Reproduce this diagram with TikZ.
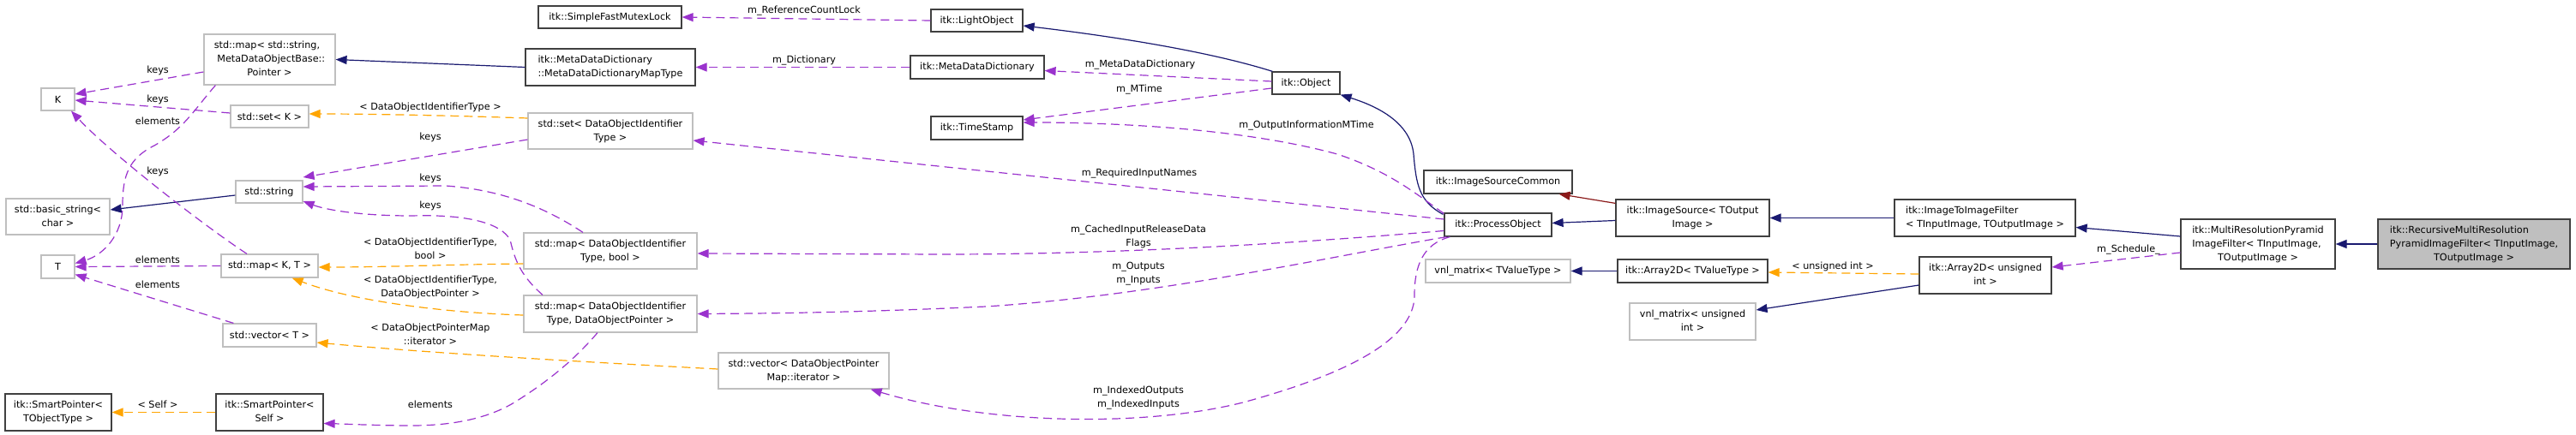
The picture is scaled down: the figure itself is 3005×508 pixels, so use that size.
\documentclass[tikz,border=0pt]{standalone}
\usepackage{fontspec}
\setmainfont{DejaVu Sans}
\usetikzlibrary{arrows.meta,calc}
\definecolor{navy}{HTML}{191970}
\definecolor{usepurple}{HTML}{9A32CD}
\definecolor{tmplorange}{HTML}{FFA500}
\definecolor{inhred}{HTML}{8B1A1A}
\definecolor{boxdark}{HTML}{404040}
\definecolor{boxgray}{HTML}{BFBFBF}
\newcommand\LC[2]{\begin{tabular}{@{}c@{}}\begin{tabular}[b]{@{}l@{}}#1\end{tabular}\\#2\end{tabular}}
\newcommand\CC[1]{\begin{tabular}{@{}c@{}}#1\end{tabular}}
\newcommand\LL[1]{\begin{tabular}{@{}l@{}}#1\end{tabular}}
\newcommand\bx[7]{\node[#2, minimum width={#5-#3}, minimum height={#6-#4}] (#1) at ({(#3+#5)/2},{(#4+#6)/2}) {#7};}
\begin{document}
\begin{tikzpicture}[x=1pt,y=-1pt,
  every node/.style={font=\fontsize{11.2}{16}\selectfont, inner sep=0pt},
  gbox/.style={draw=boxgray, line width=1.2pt, fill=white, rectangle},
  dbox/.style={draw=boxdark, line width=1.2pt, fill=white, rectangle},
  tip/.style={-{Triangle[length=13pt,width=10pt]}},
  inh/.style={navy, line width=1.2pt, tip},
  inhr/.style={inhred, line width=1.2pt, tip},
  tmpl/.style={tmplorange, line width=1.2pt, dash pattern=on 10pt off 6pt, tip},
  use/.style={usepurple, line width=1.2pt, dash pattern=on 10pt off 6pt, tip},
  lbl/.style={align=center}]
\fill[white] (0,0) rectangle (3005,508);
\useasboundingbox (0,0) rectangle (3005,508);
% nodes
\bx{mapstr}{gbox}{238}{40}{391}{99}{\LC{std::map< std::string,\\\ MetaDataObjectBase::}{Pointer >}}
\bx{K}{gbox}{48}{103}{87}{129}{K}
\bx{setK}{gbox}{269}{123}{360}{149}{std::set< K >}
\bx{string}{gbox}{275}{211}{353}{237}{std::string}
\bx{basicstr}{gbox}{7}{232}{128}{274}{\CC{std::basic\_string<\\char >}}
\bx{T}{gbox}{48}{298}{87}{325}{T}
\bx{mapKT}{gbox}{258}{297}{371}{324}{std::map< K, T >}
\bx{vecT}{gbox}{260}{378}{369}{405}{std::vector< T >}
\bx{spTO}{dbox}{6}{460}{130}{503}{\CC{itk::SmartPointer<\\TObjectType >}}
\bx{spSelf}{dbox}{252}{460}{377}{503}{\CC{itk::SmartPointer<\\Self >}}
\bx{mutex}{dbox}{628}{7}{795}{33}{itk::SimpleFastMutexLock}
\bx{mdmap}{dbox}{613}{57}{811}{100}{\LL{itk::MetaDataDictionary\\::MetaDataDictionaryMapType}}
\bx{setDO}{gbox}{616}{132}{808}{174}{\CC{std::set< DataObjectIdentifier\\Type >}}
\bx{mapBool}{gbox}{611}{272}{813}{314}{\CC{std::map< DataObjectIdentifier\\Type, bool >}}
\bx{mapDOP}{gbox}{611}{345}{813}{388}{\CC{std::map< DataObjectIdentifier\\Type, DataObjectPointer >}}
\bx{vecDOP}{gbox}{838}{412}{1037}{454}{\CC{std::vector< DataObjectPointer\\Map::iterator >}}
\bx{light}{dbox}{1086}{11}{1193}{37}{itk::LightObject}
\bx{mdd}{dbox}{1062}{65}{1218}{92}{itk::MetaDataDictionary}
\bx{ts}{dbox}{1086}{136}{1193}{163}{itk::TimeStamp}
\bx{obj}{dbox}{1484}{84}{1563}{110}{itk::Object}
\bx{isc}{dbox}{1661}{199}{1834}{226}{itk::ImageSourceCommon}
\bx{po}{dbox}{1685}{249}{1810}{276}{itk::ProcessObject}
\bx{is}{dbox}{1885}{233}{2064}{276}{\CC{itk::ImageSource< TOutput\\Image >}}
\bx{vnlT}{gbox}{1663}{303}{1832}{330}{vnl\_matrix< TValueType >}
\bx{arrT}{dbox}{1887}{303}{2062}{330}{itk::Array2D< TValueType >}
\bx{vnlU}{gbox}{1901}{354}{2048}{397}{\CC{vnl\_matrix< unsigned\\int >}}
\bx{i2i}{dbox}{2210}{233}{2421}{276}{\LL{itk::ImageToImageFilter\\< TInputImage, TOutputImage >}}
\bx{arrU}{dbox}{2239}{300}{2393}{343}{\CC{itk::Array2D< unsigned\\int >}}
\bx{mrp}{dbox}{2544}{256}{2724}{314}{\LC{itk::MultiResolutionPyramid\\ImageFilter< TInputImage,}{TOutputImage >}}
\bx{rec}{dbox, fill=boxgray}{2774}{256}{2998}{314}{\LC{itk::RecursiveMultiResolution\\PyramidImageFilter< TInputImage,}{TOutputImage >}}
% inheritance
\draw[inh] (mdmap.west) -- (mapstr.east);
\draw[inh] ($(string.west)+(0,4)$) -- ($(basicstr.east)+(0,-8)$);
\draw[inh] ($(obj.north west)+(1,0)$) .. controls (1420,63) and (1320,45) .. ($(light.east)+(0,6)$);
\draw[inh] ($(po.north west)+(-1,2)$) .. controls (1655,235) and (1652,215) .. (1649,180) .. controls (1645,140) and (1600,122) .. (obj.south east);
\draw[inh] ($(is.west)+(0,3)$) -- ($(po.east)+(0,-2)$);
\draw[inh] (i2i.west) -- (is.east);
\draw[inh] ($(mrp.west)+(0,-9)$) -- ($(i2i.east)+(0,11)$);
\draw[inh] (rec.west) -- (mrp.east);
\draw[inh] (arrT.west) -- (vnlT.east);
\draw[inh] ($(arrU.west)+(0,11.5)$) -- ($(vnlU.east)+(0,-13.5)$);
\draw[inhr] ($(is.north west)+(0,5)$) -- ($(isc.south east)+(-16,0)$);
% template instances
\draw[tmpl] ($(setDO.west)+(0,-15)$) .. controls (560,136) and (450,133) .. ($(setK.east)+(0,-3)$);
\draw[tmpl] ($(mapBool.west)+(0,15)$) .. controls (520,309) and (450,312) .. ($(mapKT.east)+(0,1.5)$);
\draw[tmpl] ($(mapDOP.west)+(0,1.5)$) .. controls (540,366) and (420,355) .. ($(mapKT.south east)+(-31,0)$);
\draw[tmpl] ($(vecDOP.west)+(0,-2)$) .. controls (650,421) and (500,412) .. ($(vecT.east)+(0,8.5)$);
\draw[tmpl] (spSelf.west) -- (spTO.east);
\draw[tmpl] ($(arrU.west)+(0,-1.5)$) -- ($(arrT.east)+(0,1.5)$);
% usage
\draw[use] (light.west) -- (mutex.east);
\draw[use] (mdd.west) -- (mdmap.east);
\draw[use] ($(obj.west)+(0,-2)$) -- ($(mdd.east)+(0,4)$);
\draw[use] ($(obj.west)+(0,6)$) -- ($(ts.east)+(0,-9.5)$);
\draw[use] ($(po.north west)+(0,1)$) .. controls (1650,225) and (1620,200) .. (1560,180) .. controls (1450,150) and (1300,143) .. ($(ts.east)+(0,-6.5)$);
\draw[use] ($(po.west)+(0,-6.5)$) -- ($(setDO.east)+(0,11)$);
\draw[use] ($(po.west)+(0,7)$) .. controls (1500,285) and (1300,297) .. (1100,297) -- ($(mapBool.east)+(0,3)$);
\draw[use] ($(po.south west)+(3,0)$) .. controls (1550,300) and (1350,345) .. (1150,358) .. controls (1000,365) and (900,366) .. (mapDOP.east);
\draw[use] ($(po.south west)+(7,0)$) .. controls (1660,285) and (1650,310) .. (1650,345) .. controls (1650,400) and (1560,440) .. (1450,470) .. controls (1330,500) and (1150,495) .. ($(vecDOP.south east)+(-22,0)$);
\draw[use] ($(mrp.west)+(0,10)$) -- ($(arrU.east)+(0,-9.5)$);
\draw[use] ($(mapstr.west)+(0,14.5)$) -- ($(K.east)+(0,-6)$);
\draw[use] ($(setK.west)+(0,-4)$) -- ($(K.east)+(0,1)$);
\draw[use] ($(mapKT.north)+(-26.5,0)$) .. controls (240,265) and (130,180) .. ($(K.south)+(15.5,0)$);
\draw[use] ($(mapstr.south west)+(14,0)$) .. controls (225,130) and (215,150) .. (180,170) .. controls (150,185) and (143,205) .. (143,240) .. controls (143,275) and (120,298) .. ($(T.east)+(0,-4)$);
\draw[use] (mapKT.west) -- (T.east);
\draw[use] ($(vecT.north west)+(13,0)$) -- ($(T.east)+(0,9)$);
\draw[use] ($(setDO.west)+(0,10)$) -- ($(string.east)+(0,-17)$);
\draw[use] ($(mapBool.north)+(-32,0)$) .. controls (640,245) and (590,222) .. (520,217) -- ($(string.east)+(0,-6)$);
\draw[use] ($(mapDOP.north)+(-79,0)$) .. controls (605,320) and (600,300) .. (595,280) .. controls (585,262) and (550,250) .. (480,252) .. controls (420,252) and (380,245) .. ($(string.east)+(0,11)$);
\draw[use] ($(mapDOP.south)+(-15,0)$) .. controls (670,420) and (640,445) .. (600,470) .. controls (570,488) and (530,497) .. (480,497) .. controls (440,497) and (400,495) .. ($(spSelf.east)+(0,13)$);
% labels
\node[lbl] (l1) at (184,82) {keys};
\node[lbl] (l2) at (184,116) {keys};
\node[lbl] (l3) at (184,141) {elements};
\node[lbl] (l4) at (184,200) {keys};
\node[lbl] (l5) at (184,303) {elements};
\node[lbl] (l6) at (184,332) {elements};
\node[lbl] (l7) at (184,472) {< Self >};
\node[lbl] (l8) at (502,125) {< DataObjectIdentifierType >};
\node[lbl] (l9) at (502,160) {keys};
\node[lbl] (l10) at (502,208) {keys};
\node[lbl] (l11) at (502,240) {keys};
\node[lbl] (l12) at (502,291) {\CC{< DataObjectIdentifierType,\\bool >}};
\node[lbl] (l13) at (502,335) {\CC{< DataObjectIdentifierType,\\DataObjectPointer >}};
\node[lbl] (l14) at (502,391.5) {\CC{< DataObjectPointerMap\\::iterator >}};
\node[lbl] (l15) at (502,472) {elements};
\node[lbl] (l16) at (938,13) {m\_ReferenceCountLock};
\node[lbl] (l17) at (938,71) {m\_Dictionary};
\node[lbl] (l18) at (1330,76) {m\_MetaDataDictionary};
\node[lbl] (l19) at (1329,105) {m\_MTime};
\node[lbl] (l20) at (1524,147) {m\_OutputInformationMTime};
\node[lbl] (l21) at (1329,203) {m\_RequiredInputNames};
\node[lbl] (l22) at (1328,276) {\CC{m\_CachedInputReleaseData\\Flags}};
\node[lbl] (l23) at (1328,319) {\CC{m\_Outputs\\m\_Inputs}};
\node[lbl] (l24) at (1328,464) {\CC{m\_IndexedOutputs\\m\_IndexedInputs}};
\node[lbl] (l25) at (2138,311) {< unsigned int >};
\node[lbl] (l26) at (2483,292) {m\_Schedule\_};
\end{tikzpicture}
\end{document}
